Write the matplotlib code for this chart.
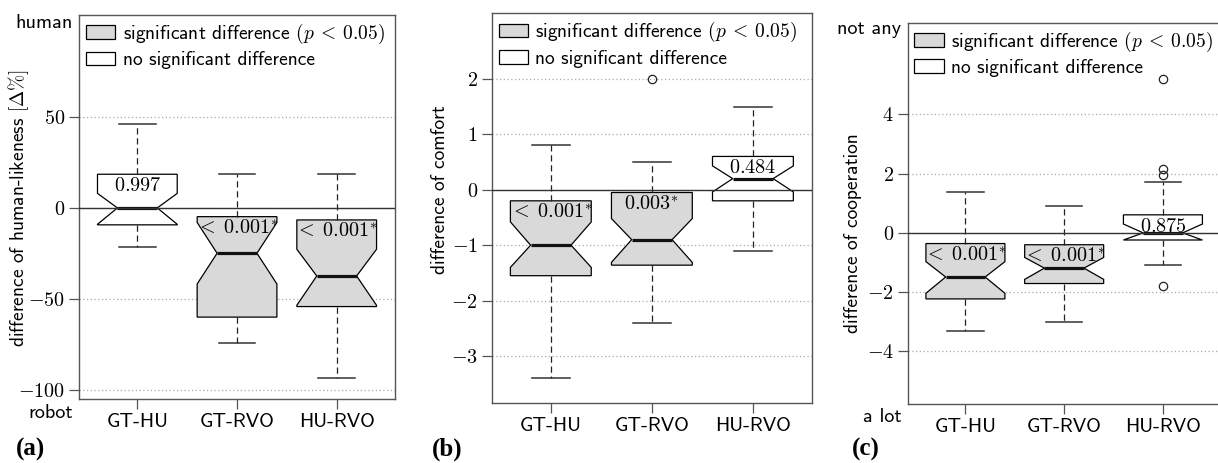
import matplotlib
matplotlib.use("Agg")
import matplotlib.pyplot as plt
from matplotlib.patches import Patch
from matplotlib.ticker import FuncFormatter

plt.rcParams['mathtext.fontset'] = 'cm'
plt.rcParams['font.family'] = ['cmss10', 'DejaVu Sans']
plt.rcParams['axes.unicode_minus'] = True

categories = ["GT-HU", "GT-RVO", "HU-RVO"]

# ---- panel (a): human-likeness ----
a_whislo = [-21.3, -74.4, -93.2]
a_q1     = [-9.3, -60.0, -54.2]
a_med    = [0.0, -24.9, -37.4]
a_q3     = [18.5, -4.8, -6.6]
a_whishi = [46.3, 18.5, 18.5]
a_cilo   = [-9.0, -41.8, -53.5]
a_cihi   = [8.0, -8.0, -22.7]
a_fliers = [[], [], []]
a_sig    = [False, True, True]
a_plab   = ["0.997", "< 0.001*", "< 0.001*"]
a_yticks = [-100, -50, 0, 50]

# ---- panel (b): comfort ----
b_whislo = [-3.4, -2.4, -1.1]
b_q1     = [-1.55, -1.36, -0.2]
b_med    = [-1.0, -0.9, 0.2]
b_q3     = [-0.2, -0.05, 0.6]
b_whishi = [0.8, 0.5, 1.5]
b_cilo   = [-1.4, -1.31, -0.04]
b_cihi   = [-0.58, -0.52, 0.43]
b_fliers = [[], [2.0], []]
b_sig    = [True, True, False]
b_plab   = ["< 0.001*", "0.003*", "0.484"]
b_yticks = [-3, -2, -1, 0, 1, 2]

# ---- panel (c): cooperation ----
c_whislo = [-3.3, -3.0, -1.09]
c_q1     = [-2.23, -1.71, -0.24]
c_med    = [-1.49, -1.19, 0.0]
c_q3     = [-0.36, -0.4, 0.61]
c_whishi = [1.39, 0.9, 1.71]
c_cilo   = [-2.04, -1.57, -0.24]
c_cihi   = [-0.97, -0.83, 0.30]
c_fliers = [[], [], [5.2, 2.16, 1.94, -1.79]]
c_sig    = [True, True, False]
c_plab   = ["< 0.001*", "< 0.001*", "0.875"]
c_yticks = [-4, -2, 0, 2, 4]

GRAY = '#d9d9d9'
SPINE = '#555555'

fig = plt.figure(figsize=(12.18, 4.63), dpi=100)


def to_math(s):
    s = s.replace("< ", r"<\;").replace("*", "^{*}")
    return "$" + s + "$"


def panel(rect, whislo, q1, med, q3, whishi, cilo, cihi, fliers, sig, plab,
          yticks, ylim, ylabel, ylab_y, ylab_x, top_txt=None, bot_txt=None,
          top_y=None, bot_y=None):
    ax = fig.add_axes(rect)
    stats = []
    for i, c in enumerate(categories):
        stats.append(dict(label=c, whislo=whislo[i], q1=q1[i], med=med[i],
                          q3=q3[i], whishi=whishi[i], cilo=cilo[i],
                          cihi=cihi[i], fliers=fliers[i]))
    res = ax.bxp(stats, positions=[1, 2, 3], widths=0.8, capwidths=0.37,
                 shownotches=True, patch_artist=True, showfliers=True,
                 boxprops=dict(edgecolor='black', linewidth=0.9),
                 medianprops=dict(color='#111111', linewidth=2.3),
                 whiskerprops=dict(color='#222222', linewidth=0.9,
                                   linestyle=(0, (5, 3))),
                 capprops=dict(color='#333333', linewidth=1.1),
                 flierprops=dict(marker='o', markerfacecolor='none',
                                 markeredgecolor='#222222', markersize=6,
                                 markeredgewidth=0.9))
    for box, s in zip(res['boxes'], sig):
        box.set_facecolor(GRAY if s else 'white')
    ax.axhline(0, color='#333333', linewidth=1.0, zorder=5)
    for i, t in enumerate(plab):
        ax.annotate(to_math(t), xy=(i + 1, q3[i]), xytext=(0, -8.5),
                    textcoords='offset points', ha='center', va='center',
                    fontsize=14.5, zorder=6)
    ax.set_xlim(0.415, 3.585)
    ax.set_ylim(*ylim)
    ax.set_yticks(yticks)
    ax.yaxis.set_major_formatter(FuncFormatter(lambda v, p: f"${v:g}$"))
    ax.yaxis.grid(True, linestyle=(0, (1, 2)), color='#aaaaaa', linewidth=0.9)
    ax.set_axisbelow(True)
    ax.tick_params(axis='both', direction='out', length=7, width=0.9,
                   color=SPINE, labelsize=14.5, pad=3)
    ax.set_xticks([1, 2, 3])
    ax.set_xticklabels(categories, fontsize=14.5)
    for sp in ax.spines.values():
        sp.set_color(SPINE)
        sp.set_linewidth(1.0)
    ax.text(ylab_x, ylab_y, ylabel, transform=ax.transAxes, rotation=90,
            ha='center', va='center', fontsize=14)
    if top_txt:
        ax.text(-0.02, top_y, top_txt, transform=ax.transAxes, ha='right',
                va='center', fontsize=14.5)
    if bot_txt:
        ax.text(-0.02, bot_y, bot_txt, transform=ax.transAxes, ha='right',
                va='center', fontsize=14.5)
    handles = [Patch(facecolor=GRAY, edgecolor='black', linewidth=0.9),
               Patch(facecolor='white', edgecolor='black', linewidth=0.9)]
    ax.legend(handles, [r"significant difference $(p\:<\:0.05)$",
                        "no significant difference"],
              loc='upper left', frameon=False, fontsize=14,
              handlelength=1.5, handleheight=0.7, handletextpad=0.4,
              labelspacing=0.28, borderaxespad=0.1, borderpad=0.25)
    return ax


panel([0.0649, 0.1382, 0.2594, 0.8294], a_whislo, a_q1, a_med, a_q3, a_whishi,
      a_cilo, a_cihi, a_fliers, a_sig, a_plab, a_yticks, (-105, 106),
      r"difference of human-likeness $[\Delta\%]$", 0.497, -0.19,
      top_txt="human", bot_txt="robot", top_y=0.979, bot_y=-0.036)

panel([0.4037, 0.1302, 0.2630, 0.8410], b_whislo, b_q1, b_med, b_q3, b_whishi,
      b_cilo, b_cihi, b_fliers, b_sig, b_plab, b_yticks, (-3.84, 3.18),
      "difference of comfort", 0.547, -0.161)

panel([0.7452, 0.1274, 0.2570, 0.8236], c_whislo, c_q1, c_med, c_q3, c_whishi,
      c_cilo, c_cihi, c_fliers, c_sig, c_plab, c_yticks, (-5.78, 7.1),
      "difference of cooperation", 0.448, -0.175,
      top_txt="not any", bot_txt="a lot", top_y=0.983, bot_y=-0.034)

for x, lab in [(0.013, "(a)"), (0.3547, "(b)"), (0.699, "(c)")]:
    fig.text(x, 0.030, lab, fontsize=18, fontweight='bold',
             family='Liberation Serif', ha='left', va='center')

fig.savefig("out.png", dpi=100)
